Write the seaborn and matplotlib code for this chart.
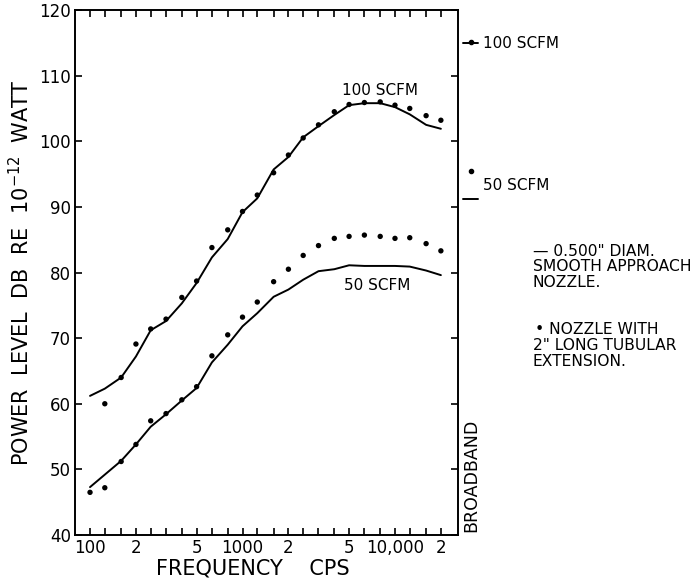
import matplotlib
matplotlib.use("Agg")
import matplotlib.pyplot as plt
import matplotlib.transforms as mtransforms
import seaborn as sns
import pandas as pd
import numpy as np

# Third-octave band centre frequencies (CPS)
freq = [100, 125, 160, 200, 250, 315, 400, 500, 630, 800, 1000, 1250,
        1600, 2000, 2500, 3150, 4000, 5000, 6300, 8000, 10000, 12500, 16000, 20000]

# 0.500" diam smooth approach nozzle (lines)
line_100 = [61.2, 62.3, 64.0, 67.2, 71.2, 72.6, 75.3, 78.4, 82.3, 85.1, 89.2, 91.3,
            95.7, 97.6, 100.6, 102.3, 104.0, 105.5, 105.8, 105.8, 105.2, 104.1, 102.5, 101.9]
line_50 = [47.3, 49.2, 51.3, 53.8, 56.5, 58.4, 60.5, 62.4, 66.3, 69.0, 71.8, 73.8,
           76.3, 77.4, 78.9, 80.2, 80.5, 81.1, 81.0, 81.0, 81.0, 80.9, 80.3, 79.6]

# Nozzle with 2" long tubular extension (dots)
dot_freq_100 = [125, 160, 200, 250, 315, 400, 500, 630, 800, 1000, 1250,
                1600, 2000, 2500, 3150, 4000, 5000, 6300, 8000, 10000, 12500, 16000, 20000]
dot_100 = [60.0, 64.0, 69.1, 71.4, 72.9, 76.2, 78.7, 83.8, 86.5, 89.3, 91.8,
           95.2, 97.9, 100.5, 102.5, 104.5, 105.6, 105.9, 106.0, 105.5, 105.0, 103.9, 103.2]
dot_50 = [46.5, 47.2, 51.2, 53.8, 57.4, 58.5, 60.6, 62.6, 67.3, 70.5, 73.2, 75.5,
          78.6, 80.5, 82.6, 84.1, 85.2, 85.5, 85.7, 85.5, 85.2, 85.3, 84.4, 83.3]

# Broadband levels
bb_labels = ["100 SCFM", "50 SCFM"]
bb_line = [114.9, 91.2]
bb_dot = [115.1, 95.4]

x_ticklabels = {100: "100", 200: "2", 500: "5", 1000: "1000", 2000: "2",
                5000: "5", 10000: "10,000", 20000: "2"}
y_ticks = [40, 50, 60, 70, 80, 90, 100, 110, 120]

sns.set_style("ticks")
plt.rcParams['font.family'] = ['DejaVu Sans']
plt.rcParams['text.color'] = 'black'
plt.rcParams['axes.labelcolor'] = 'black'
plt.rcParams['xtick.color'] = 'black'
plt.rcParams['ytick.color'] = 'black'

fig = plt.figure(figsize=(6.97, 5.82), dpi=100)
ax = fig.add_axes([75/697, 1 - 535/582, (458-75)/697, (535-10)/582])

df_lines = pd.DataFrame({
    "freq": freq * 2,
    "level": line_100 + line_50,
    "flow": ["100 SCFM"] * len(freq) + ["50 SCFM"] * len(freq),
})
df_dots = pd.DataFrame({
    "freq": dot_freq_100 + freq,
    "level": dot_100 + dot_50,
    "flow": ["100 SCFM"] * len(dot_freq_100) + ["50 SCFM"] * len(freq),
})

sns.lineplot(data=df_lines, x="freq", y="level", units="flow", estimator=None,
             color="black", linewidth=1.4, ax=ax, legend=False)
sns.scatterplot(data=df_dots, x="freq", y="level", color="black", s=15,
                edgecolor="none", ax=ax, legend=False)

ax.set_xscale("log")
ax.set_xlim(79.7, 25900)
ax.set_ylim(40, 120)

ax.xaxis.set_minor_locator(matplotlib.ticker.NullLocator())
ax.set_xticks(freq)
ax.set_xticklabels([x_ticklabels.get(f, "") for f in freq])
ax.xaxis.set_minor_locator(matplotlib.ticker.NullLocator())
ax.set_yticks(y_ticks)
ax.set_yticklabels([str(v) for v in y_ticks])
ax.tick_params(axis="both", which="major", direction="in", length=5, width=1.2,
               top=True, right=True, labelsize=12, colors="black", pad=3)
for sp in ax.spines.values():
    sp.set_linewidth(1.4)
    sp.set_color("black")

ax.set_xlabel("FREQUENCY    CPS", fontsize=15, labelpad=1, x=0.465)
ax.set_ylabel("POWER  LEVEL  DB  RE  $\\mathregular{10^{-12}}$  WATT", fontsize=15, labelpad=4)

# curve labels
ax.text(8000, 107.8, "100 SCFM", fontsize=11, ha="center", va="center")
ax.text(7700, 78.0, "50 SCFM", fontsize=11, ha="center", va="center")

# broadband markers outside the axes
trans = mtransforms.blended_transform_factory(ax.transAxes, ax.transData)
for lab, yl, yd in zip(bb_labels, bb_line, bb_dot):
    ax.plot([1.013, 1.052], [yl, yl], color="black", lw=1.4, transform=trans, clip_on=False)
    ax.plot([1.034], [yd], marker="o", ms=3, color="black", transform=trans, clip_on=False)
ax.text(1.066, bb_line[0], bb_labels[0], transform=trans, fontsize=11, va="center", ha="left")
ax.text(1.066, (bb_line[1] + bb_dot[1]) / 2, bb_labels[1], transform=trans, fontsize=11,
        va="center", ha="left")
ax.text(1.034, 40.4, "BROADBAND", transform=trans, rotation=90, fontsize=12.5,
        ha="center", va="bottom")

# legend text on the right
fs = 11.2
fig.text(533/697, 1 - 252/582, "— 0.500\" DIAM.", fontsize=fs, ha="left", va="center")
fig.text(533/697, 1 - 267/582, "SMOOTH APPROACH", fontsize=fs, ha="left", va="center")
fig.text(533/697, 1 - 282/582, "NOZZLE.", fontsize=fs, ha="left", va="center")
fig.text(535/697, 1 - 330/582, "• NOZZLE WITH", fontsize=fs, ha="left", va="center")
fig.text(533/697, 1 - 345/582, "2\" LONG TUBULAR", fontsize=fs, ha="left", va="center")
fig.text(533/697, 1 - 361/582, "EXTENSION.", fontsize=fs, ha="left", va="center")

fig.savefig("out.png", dpi=100)
